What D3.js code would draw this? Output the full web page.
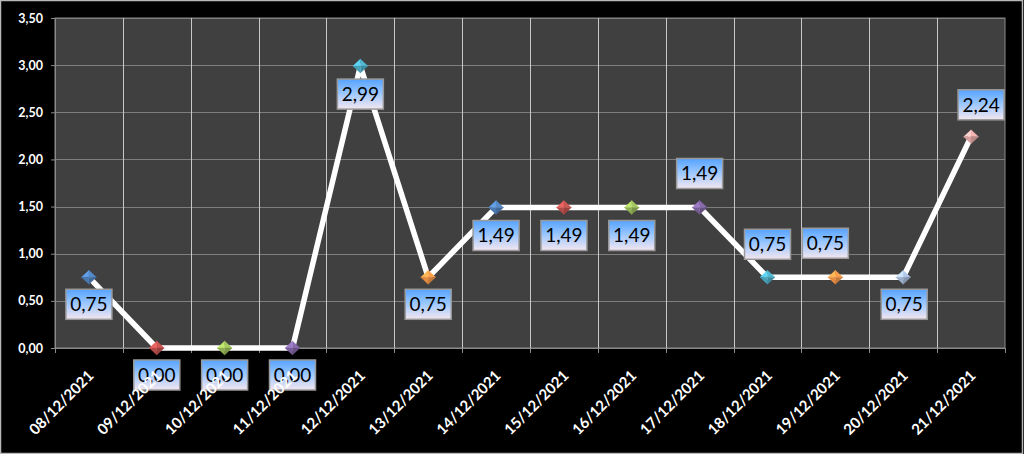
<!DOCTYPE html>
<html>
<head>
<meta charset="utf-8">
<script src="https://cdn.jsdelivr.net/npm/d3@7/dist/d3.min.js"></script>
<style>
  html, body { margin: 0; padding: 0; background: #000; }
  svg { display: block; }
  text { font-family: Lato, "Open Sans", sans-serif; }
</style>
</head>
<body>
<svg id="chart" width="1024" height="454"></svg>
<script>
// ---- data ----
const categories = ["08/12/2021","09/12/2021","10/12/2021","11/12/2021","12/12/2021","13/12/2021","14/12/2021",
                    "15/12/2021","16/12/2021","17/12/2021","18/12/2021","19/12/2021","20/12/2021","21/12/2021"];
const values = [0.75, 0.00, 0.00, 0.00, 2.99, 0.75, 1.49, 1.49, 1.49, 1.49, 0.75, 0.75, 0.75, 2.24];
const yTicks = [0, 0.5, 1, 1.5, 2, 2.5, 3, 3.5];

// ---- styles / layout ----
const markerColors = ["#4f81bd","#c0504d","#9bbb59","#8064a2","#4bacc6","#f79646",
                      "#4f81bd","#c0504d","#9bbb59","#8064a2","#4bacc6","#f79646",
                      "#a7bbdb","#e5a9a7"];
// label box offsets from point (px)
const labelOffsets = [[0,27],[0,27],[0,27],[0,27],[0,28],[0,27],[0,28],[0,28],[0,28],
                      [0,-34],[0,-33],[-10,-34],[1,27],[10,-32]];

const W = 1024, H = 454;
const plot = {left: 55, right: 1005, top: 18, bottom: 348};
const svg = d3.select("#chart");
const fmt = v => d3.format(".2f")(v).replace(".", ",");

// background + frame
svg.append("rect").attr("x", 0.5).attr("y", 0.5).attr("width", W - 2).attr("height", H - 1)
  .attr("fill", "#000").attr("stroke", "#b8b8b8").attr("stroke-width", 1.5);

const x = d3.scaleBand().domain(categories).range([plot.left, plot.right]);
const y = d3.scaleLinear().domain([0, 3.5]).range([plot.bottom, plot.top]);

// plot area
svg.append("rect").attr("x", plot.left).attr("y", plot.top)
  .attr("width", plot.right - plot.left).attr("height", plot.bottom - plot.top)
  .attr("fill", "#404040").attr("stroke", "#8a8a8a").attr("stroke-width", 1);

// horizontal gridlines
svg.append("g").selectAll("line").data(yTicks).join("line")
  .attr("x1", plot.left).attr("x2", plot.right)
  .attr("y1", d => Math.round(y(d)) + 0.5).attr("y2", d => Math.round(y(d)) + 0.5)
  .attr("stroke", "#7e7e7e").attr("stroke-width", 1);

// vertical gridlines at category boundaries
const bounds = categories.map(c => x(c)).concat([plot.right]);
svg.append("g").selectAll("line").data(bounds.slice(1, -1)).join("line")
  .attr("x1", d => Math.round(d) + 0.5).attr("x2", d => Math.round(d) + 0.5)
  .attr("y1", plot.top).attr("y2", plot.bottom)
  .attr("stroke", "#c8c8c8").attr("stroke-width", 1);

// y axis
const yAxis = svg.append("g").attr("transform", `translate(${plot.left},0)`)
  .call(d3.axisLeft(y).tickValues(yTicks).tickFormat(fmt).tickSize(4).tickPadding(8));
yAxis.select(".domain").attr("stroke", "#8a8a8a");
yAxis.selectAll(".tick line").attr("stroke", "#8a8a8a");
yAxis.selectAll(".tick text").attr("fill", "#fff").attr("font-size", 12.5).attr("font-weight", "bold")
  .attr("font-family", "Lato, sans-serif");

// x axis ticks at boundaries
svg.append("g").selectAll("line").data(bounds).join("line")
  .attr("x1", d => Math.round(d) + 0.5).attr("x2", d => Math.round(d) + 0.5)
  .attr("y1", plot.bottom).attr("y2", plot.bottom + 5)
  .attr("stroke", "#8a8a8a");
svg.append("line").attr("x1", plot.left).attr("x2", plot.right)
  .attr("y1", plot.bottom + 0.5).attr("y2", plot.bottom + 0.5).attr("stroke", "#8a8a8a");

// line
const cx = c => x(c) + x.bandwidth() / 2;
const line = d3.line().x((d, i) => cx(categories[i])).y(d => y(d));
svg.append("path").datum(values).attr("d", line)
  .attr("fill", "none").attr("stroke", "#fff").attr("stroke-width", 5.5)
  .attr("stroke-linejoin", "round");

// markers - faceted diamonds
const mg = svg.append("g");
values.forEach((v, i) => {
  const px = cx(categories[i]), py = y(v);
  const c = d3.color(markerColors[i]);
  const g = mg.append("g").attr("transform", `translate(${px},${py})`);
  const w = 7.5, h = 7;
  const facets = [
    {p: `M0,0L${-w},0L0,${-h}Z`, col: c.brighter(0.6)},
    {p: `M0,0L0,${-h}L${w},0Z`, col: c.brighter(0.2)},
    {p: `M0,0L${w},0L0,${h}Z`, col: c.darker(0.6)},
    {p: `M0,0L0,${h}L${-w},0Z`, col: c.darker(0.2)}
  ];
  facets.forEach(f => g.append("path").attr("d", f.p).attr("fill", f.col).attr("stroke", f.col).attr("stroke-width", 0.3));
});

// data labels
const defs = svg.append("defs");
const grad = defs.append("linearGradient").attr("id", "lblGrad").attr("x1", 0).attr("y1", 0).attr("x2", 0).attr("y2", 1);
grad.append("stop").attr("offset", "0%").attr("stop-color", "#55a2ff");
grad.append("stop").attr("offset", "45%").attr("stop-color", "#98c6ff");
grad.append("stop").attr("offset", "100%").attr("stop-color", "#f4e6f0");

const lg = svg.append("g");
values.forEach((v, i) => {
  const px = cx(categories[i]) + labelOffsets[i][0], py = y(v) + labelOffsets[i][1];
  const bw = 46, bh = 30;
  lg.append("rect").attr("x", px - bw / 2).attr("y", py - bh / 2).attr("width", bw).attr("height", bh)
    .attr("fill", "url(#lblGrad)").attr("stroke", "#9a9a9a").attr("stroke-width", 1.5);
  lg.append("text").attr("x", px).attr("y", py).attr("dy", "0.36em").attr("text-anchor", "middle")
    .attr("fill", "#000").attr("font-size", 19).text(fmt(v));
});

// x labels (drawn on top)
svg.append("g").selectAll("text").data(categories).join("text")
  .attr("transform", d => `translate(${cx(d) + 2},${plot.bottom + 25}) rotate(-45)`)
  .attr("text-anchor", "end").attr("dy", "0.35em")
  .attr("fill", "#fff").attr("font-size", 15).attr("font-weight", "bold")
  .text(d => d);
</script>
</body>
</html>
